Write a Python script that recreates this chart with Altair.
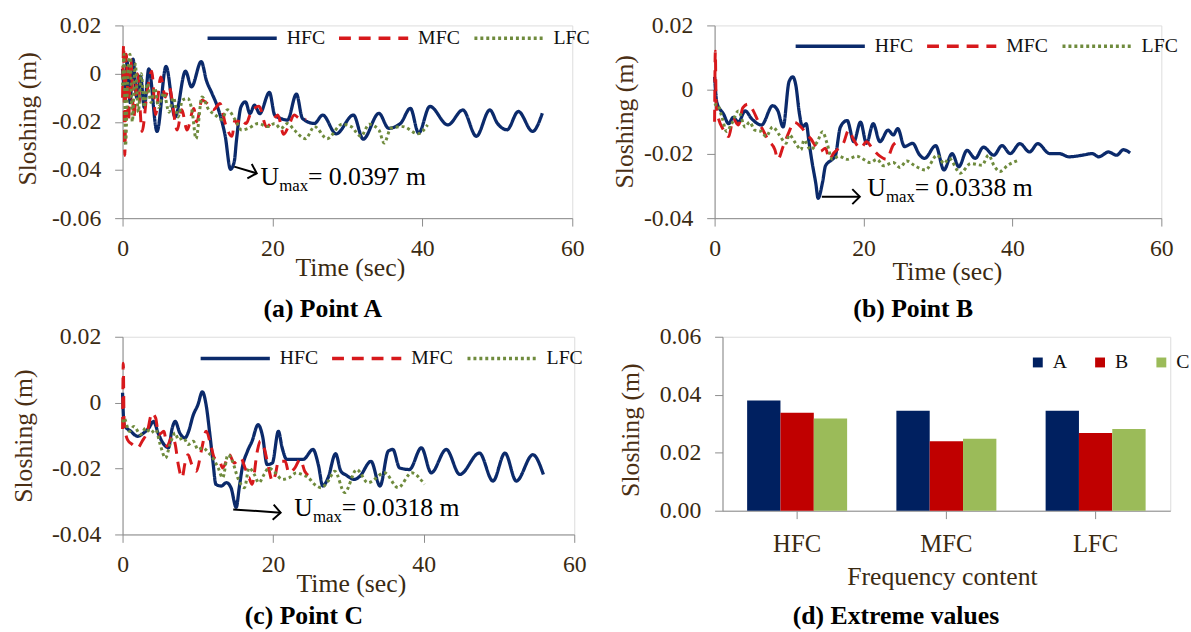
import altair as alt
import pandas as pd

FONT = "Liberation Serif"
LABEL_C = "#3a2a12"
TITLE_C = "#4b2f14"
AXIS_C = "#8c8c8c"

SERIES = ["HFC", "MFC", "LFC"]
LINE_COLORS = ["#0b2a6b", "#d7191c", "#6f8b3d"]
LINE_DASH = [[1, 0], [12, 8], [3, 3]]

# ---------------- Panel (a) Point A ----------------
a_hfc_t = [0.0, 0.3, 0.6, 1.0, 1.4, 1.9, 2.4, 2.9, 3.5, 4.6, 5.8, 7.0, 8.4, 9.2, 10.5, 11.2, 11.9,
           12.8, 13.7, 14.4, 14.9, 15.2, 15.8, 16.4, 17.0, 17.6, 18.3, 19.6, 20.3, 21.1, 22.0, 23.2,
           24.0, 25.6, 26.7, 28.5, 30.8, 32.1, 34.2, 35.5, 37.1, 38.4, 39.5, 41.0, 43.4, 45.4, 47.2,
           49.0, 50.0, 51.3, 52.8, 54.7, 56.0]
a_hfc_v = [0.002, -0.008, 0.005, -0.012, 0.006, -0.010, -0.001, -0.014, 0.002, -0.024, 0.003, -0.018,
           0.001, -0.0055, 0.005, -0.003, -0.008, -0.015, -0.026, -0.0397, -0.0366, -0.0276, -0.0138,
           -0.0117, -0.0166, -0.0131, -0.0166, -0.0078, -0.0172, -0.0186, -0.0193, -0.0085, -0.0186,
           -0.0207, -0.0172, -0.0250, -0.0172, -0.0272, -0.0165, -0.0227, -0.0206, -0.0144, -0.0247,
           -0.0136, -0.0213, -0.0151, -0.0260, -0.0151, -0.0206, -0.0233, -0.0157, -0.0240, -0.0165]
a_mfc_t = [0.0, 0.15, 0.3, 0.5, 0.8, 1.1, 1.5, 2.0, 2.6, 3.3, 3.9, 4.4, 5.1, 5.7, 6.2, 7.3, 7.9, 8.6,
           9.5, 9.9, 10.6, 11.5, 12.1, 13.0, 13.7, 14.6, 15.0, 15.3, 15.6, 16.5, 17.0, 18.2, 19.2, 19.8,
           20.7, 21.5, 22.2, 22.9, 23.6, 24.5]
a_mfc_v = [-0.010, 0.012, -0.034, 0.008, -0.020, 0.006, -0.018, 0.000, -0.024, -0.007, 0.001, -0.017,
           -0.0014, -0.0097, -0.0055, -0.0234, -0.0150, -0.0234, -0.0145, -0.0200, -0.0110, -0.0130,
           -0.0150, -0.0124, -0.0207, -0.0260, -0.0193, -0.0210, -0.0186, -0.0207, -0.0172, -0.0135,
           -0.0220, -0.0207, -0.0172, -0.0252, -0.0214, -0.0172, -0.0186, -0.0190]
a_lfc_t = [0.0, 0.2, 0.4, 0.7, 1.0, 1.3, 1.7, 2.1, 2.5, 2.9, 3.3, 3.8, 4.3, 4.8, 5.5, 6.2, 6.8, 7.4,
           8.0, 8.7, 9.3, 9.8, 10.6, 11.5, 12.3, 13.2, 14.0, 15.0, 15.9, 16.7, 18.1, 19.4, 20.3, 21.1,
           22.0, 22.9, 24.4, 25.6, 27.3, 29.3, 30.5, 31.8, 32.9, 34.2, 34.9, 35.8, 37.4, 39.4, 40.7]
a_lfc_v = [-0.005, 0.008, -0.030, 0.000, 0.008, -0.020, 0.004, -0.016, 0.000, -0.014, -0.004, -0.012,
           -0.006, -0.014, -0.008, -0.016, -0.010, -0.018, -0.011, -0.0103, -0.016, -0.027, -0.0097,
           -0.015, -0.017, -0.019, -0.015, -0.019, -0.0234, -0.0228, -0.0207, -0.022, -0.0207, -0.0228,
           -0.0207, -0.0234, -0.027, -0.022, -0.027, -0.021, -0.022, -0.026, -0.021, -0.0234, -0.0288,
           -0.0227, -0.022, -0.025, -0.0213]

# ---------------- Panel (b) Point B ----------------
b_hfc_t = [0.0, 0.3, 1.2, 1.9, 2.5, 3.2, 4.1, 5.0, 6.3, 7.8, 8.5, 9.2, 10.0, 10.5, 10.9, 11.4, 11.8,
           12.3, 12.7, 13.1, 13.6, 13.9, 14.5, 14.9, 15.8, 16.2, 16.9, 17.8, 18.7, 19.6, 20.4, 21.3,
           22.2, 23.3, 24.0, 24.6, 25.5, 26.6, 27.5, 28.2, 29.7, 30.8, 31.9, 32.8, 33.9, 35.0, 36.1,
           37.5, 38.6, 39.7, 41.0, 42.3, 43.4, 45.0, 46.3, 47.6, 49.4, 50.7, 51.6, 52.9, 54.0, 54.9, 55.8]
b_hfc_v = [0.004, -0.004, -0.0076, -0.0106, -0.0086, -0.0101, -0.0066, -0.0091, -0.011, -0.005,
           -0.0066, -0.0116, 0.0025, 0.004, 0.0015, -0.0076, -0.0116, -0.0106, -0.0167, -0.0227,
           -0.0293, -0.0338, -0.0288, -0.0237, -0.0217, -0.0207, -0.0116, -0.0096, -0.0162, -0.0101,
           -0.0167, -0.0106, -0.0162, -0.0126, -0.0141, -0.0121, -0.0177, -0.0167, -0.0202, -0.0214,
           -0.0174, -0.025, -0.0199, -0.024, -0.0189, -0.0214, -0.0179, -0.0204, -0.0174, -0.0199,
           -0.0168, -0.0194, -0.0168, -0.0199, -0.0199, -0.0209, -0.0204, -0.0199, -0.0209, -0.0194,
           -0.0204, -0.0187, -0.0197]
b_mfc_t = [0.0, 0.1, 0.2, 0.3, 1.2, 1.9, 2.5, 3.2, 3.8, 4.5, 5.2, 5.8, 6.5, 7.2, 8.1, 8.5, 9.2, 10.0,
           10.7, 11.6, 12.3, 12.9, 13.6, 14.2, 14.9, 15.4, 16.0, 16.7, 17.3, 18.0, 18.7, 19.6, 20.4,
           21.3, 22.2, 23.1, 24.0, 24.8]
b_mfc_v = [-0.010, 0.012, -0.004, -0.0066, -0.0126, -0.0146, -0.0091, -0.011, -0.0056, -0.0045,
           -0.0066, -0.0096, -0.0126, -0.0157, -0.0187, -0.0217, -0.0177, -0.0131, -0.0101, -0.0116,
           -0.0136, -0.0152, -0.0177, -0.0192, -0.0182, -0.0217, -0.0197, -0.0182, -0.0167, -0.0126,
           -0.0157, -0.0182, -0.0162, -0.0187, -0.0207, -0.0217, -0.0172, -0.0160]
b_lfc_t = [0.0, 0.3, 1.0, 1.6, 2.3, 3.2, 4.1, 4.7, 5.4, 6.3, 6.9, 7.8, 8.7, 9.6, 10.0, 10.9, 11.6,
           12.0, 12.9, 13.8, 14.5, 15.1, 15.8, 16.7, 17.8, 19.1, 20.0, 20.9, 21.8, 22.7, 24.0, 24.9,
           25.8, 26.9, 28.3, 29.9, 30.8, 31.5, 33.0, 34.4, 35.9, 36.8, 37.5, 38.3, 39.4, 40.8]
b_lfc_v = [-0.005, -0.0045, -0.0086, -0.013, -0.0106, -0.0066, -0.0116, -0.0101, -0.0126, -0.013,
           -0.0146, -0.0116, -0.0141, -0.0167, -0.0141, -0.0167, -0.0187, -0.0157, -0.0187, -0.0162,
           -0.0131, -0.0167, -0.0217, -0.0207, -0.0217, -0.0207, -0.0217, -0.0227, -0.0217, -0.0237,
           -0.0227, -0.0242, -0.0222, -0.0237, -0.025, -0.0204, -0.023, -0.0214, -0.026, -0.023,
           -0.0235, -0.0204, -0.0235, -0.0255, -0.0235, -0.022]

# ---------------- Panel (c) Point C ----------------
c_hfc_t = [0.0, 0.2, 1.1, 2.0, 2.8, 3.5, 4.1, 4.8, 5.5, 6.1, 6.6, 7.0, 7.6, 8.3, 8.7, 9.4, 10.0, 10.6,
           11.1, 11.6, 12.0, 12.4, 13.1, 13.8, 14.4, 15.1, 15.5, 15.9, 16.6, 17.2, 18.0, 18.6, 19.2,
           19.9, 20.7, 21.2, 21.8, 22.9, 24.0, 25.3, 26.0, 26.6, 27.3, 28.3, 29.0, 29.7, 30.8, 31.5,
           33.0, 34.2, 35.3, 35.9, 36.8, 38.1, 39.7, 41.0, 43.0, 44.8, 47.4, 49.2, 50.8, 52.3, 54.5, 55.9]
c_hfc_v = [0.003, -0.0067, -0.0087, -0.0102, -0.0092, -0.0077, -0.0057, -0.0097, -0.0127, -0.0137,
           -0.0077, -0.0057, -0.0092, -0.0107, -0.0092, -0.0037, -0.0007, 0.0033, -0.0007, -0.0097,
           -0.0178, -0.0248, -0.0253, -0.0243, -0.0258, -0.0318, -0.0258, -0.0198, -0.0147, -0.0117,
           -0.0067, -0.0102, -0.0188, -0.0183, -0.0087, -0.0137, -0.0172, -0.0172, -0.0172, -0.0142,
           -0.0188, -0.0253, -0.0228, -0.0155, -0.0208, -0.0220, -0.0233, -0.0224, -0.0178, -0.0253,
           -0.0147, -0.0142, -0.0198, -0.0203, -0.0137, -0.0213, -0.0142, -0.0218, -0.0153, -0.0238,
           -0.0153, -0.0238, -0.0158, -0.0218]
c_mfc_t = [0.0, 0.1, 0.2, 0.65, 1.3, 2.0, 2.6, 3.3, 3.9, 4.4, 4.8, 5.5, 5.9, 6.6, 7.0, 7.4, 7.9, 8.3,
           8.7, 9.2, 9.8, 10.5, 11.1, 11.8, 12.2, 12.9, 13.3, 14.2, 14.8, 15.7, 16.3, 16.8, 17.2, 17.9,
           18.3, 18.8, 19.4, 19.9, 20.3, 20.7, 21.6, 22.1, 22.9, 23.6, 24.2, 24.9]
c_mfc_v = [-0.008, 0.012, -0.0057, -0.0112, -0.0127, -0.0137, -0.0117, -0.0087, -0.0032, -0.0047,
           -0.0097, -0.0087, -0.0132, -0.0102, -0.0127, -0.0188, -0.0228, -0.0183, -0.0158, -0.0188,
           -0.0208, -0.0142, -0.0087, -0.0137, -0.0168, -0.0178, -0.0198, -0.0158, -0.0183, -0.0168,
           -0.0200, -0.0228, -0.0248, -0.0147, -0.0117, -0.0137, -0.0198, -0.0238, -0.0218, -0.0178,
           -0.0178, -0.0213, -0.0198, -0.0172, -0.0208, -0.0223]
c_lfc_t = [0.0, 0.2, 0.9, 1.5, 2.4, 3.1, 3.7, 4.4, 5.0, 5.7, 6.3, 7.0, 7.4, 8.1, 8.7, 9.4, 10.0, 10.7,
           11.4, 12.0, 12.7, 13.3, 14.0, 14.6, 15.3, 16.2, 16.8, 17.5, 18.1, 18.8, 19.4, 20.3, 21.2,
           22.1, 23.1, 23.8, 24.7, 25.5, 26.4, 27.3, 28.2, 29.5, 31.1, 32.6, 34.8, 36.6, 38.4, 40.1]
c_lfc_v = [-0.006, -0.0047, -0.0087, -0.0072, -0.0097, -0.0077, -0.0092, -0.0082, -0.0127, -0.0168,
           -0.0127, -0.0092, -0.0112, -0.0107, -0.0127, -0.0117, -0.0142, -0.0137, -0.0152, -0.0168,
           -0.0198, -0.0228, -0.0158, -0.0178, -0.0228, -0.0258, -0.0198, -0.0218, -0.0243, -0.0218,
           -0.0198, -0.0213, -0.0233, -0.0228, -0.0213, -0.0218, -0.0228, -0.0248, -0.0258, -0.0238,
           -0.0208, -0.0273, -0.0203, -0.0243, -0.0213, -0.0258, -0.0213, -0.0248]

# ---------------- Panel (d) Extreme values ----------------
bar_groups = ["HFC", "MFC", "LFC"]
bar_points = ["A", "B", "C"]
bar_colors = ["#002060", "#c00000", "#9bbb59"]
bar_A = [0.0380, 0.0345, 0.0345]
bar_B = [0.0338, 0.0240, 0.0268]
bar_C = [0.0318, 0.0248, 0.0282]

# Umax annotations
umax_values = [0.0397, 0.0338, 0.0318]


def y_axis(vals, tx, ty):
    return alt.Axis(values=vals, grid=False, title="Sloshing (m)",
                    labelExpr="datum.value == 0 ? '0' : (datum.value < 0 ? '-' : '') + format(abs(datum.value), '.2f')",
                    labelFont=FONT, labelFontSize=24, labelColor=LABEL_C, labelPadding=14,
                    tickSize=8, tickColor=AXIS_C, domainColor=AXIS_C,
                    titleFont=FONT, titleFontSize=26, titleFontWeight="normal", titleColor=TITLE_C,
                    titleX=tx, titleY=ty, titleAngle=-90, titleBaseline="middle", titleAlign="center")


def x_axis(tx, ty):
    return alt.Axis(values=[0, 20, 40, 60], format="d", grid=False, title="Time (sec)",
                    labelFont=FONT, labelFontSize=24, labelColor=LABEL_C, labelPadding=11,
                    labelFlush=False, labelOverlap=False,
                    tickSize=8, tickColor=AXIS_C, domainColor=AXIS_C,
                    titleFont=FONT, titleFontSize=26, titleFontWeight="normal", titleColor=LABEL_C,
                    titleX=tx, titleY=ty, titleBaseline="middle", titleAlign="center")


def line_panel(ts, vs, ydom, yvals, width, height, leg_x, leg_y, xt, yt, ann, caption, cap_dx, cap_off):
    xenc = alt.X("t:Q", scale=alt.Scale(domain=[0, 60], nice=False), axis=x_axis(*xt))
    yenc = alt.Y("v:Q", scale=alt.Scale(domain=ydom, nice=False, zero=False), axis=y_axis(yvals, *yt))
    legend = alt.Legend(orient="none", legendX=leg_x, legendY=leg_y, direction="horizontal", title=None,
                        symbolType="stroke", symbolSize=4900, symbolStrokeWidth=3.5,
                        labelFont=FONT, labelFontSize=20, labelColor="#111111", labelOffset=8,
                        columnPadding=7)
    color = alt.Color("series:N", scale=alt.Scale(domain=SERIES, range=LINE_COLORS), legend=legend)
    dash = alt.StrokeDash("series:N", scale=alt.Scale(domain=SERIES, range=LINE_DASH), legend=legend)
    layers = []
    for i, name in enumerate(SERIES):
        df = pd.DataFrame({"t": ts[i], "v": vs[i], "series": name})
        layers.append(alt.Chart(df).mark_line(strokeWidth=3.3 if i == 0 else 3.0, strokeJoin="round",
                                              interpolate="monotone")
                      .encode(x=xenc, y=yenc, color=color, strokeDash=dash))
    # annotation
    u_t, u_v, value, a_t0, a_v0, a_t1, a_v1, ang = ann
    tdf = pd.DataFrame({"t": [u_t], "v": [u_v]})
    base = alt.Chart(tdf)
    txt_common = dict(align="left", baseline="alphabetic", font=FONT, color="black")
    layers.append(base.mark_text(text="U", fontSize=26, **txt_common).encode(x=xenc, y=yenc))
    layers.append(base.mark_text(text="max", fontSize=17, dx=19, dy=6, **txt_common).encode(x=xenc, y=yenc))
    layers.append(base.mark_text(text="= %.4f m" % value, fontSize=26, dx=48, **txt_common).encode(x=xenc, y=yenc))
    adf = pd.DataFrame({"t": [a_t0], "v": [a_v0], "t2": [a_t1], "v2": [a_v1]})
    layers.append(alt.Chart(adf).mark_rule(color="black", strokeWidth=2)
                  .encode(x=xenc, y=yenc, x2="t2:Q", y2="v2:Q"))
    hdf = pd.DataFrame({"t": [a_t1], "v": [a_v1]})
    layers.append(alt.Chart(hdf).mark_point(shape="M-1,-1L0,0L-1,1", filled=False, size=230, strokeWidth=2,
                                            color="black", opacity=1, angle=ang)
                  .encode(x=xenc, y=yenc))
    return alt.layer(*layers).properties(
        width=width, height=height,
        title=alt.TitleParams(caption, orient="bottom", anchor="middle", frame="group", offset=cap_off,
                              dx=cap_dx, font=FONT, fontSize=26, fontWeight="bold", color="black"))


pa = line_panel([a_hfc_t, a_mfc_t, a_lfc_t], [a_hfc_v, a_mfc_v, a_lfc_v], [-0.06, 0.02],
                [-0.06, -0.04, -0.02, 0, 0.02], 455, 195, 84, -24, (230, 50), (-96, 94),
                (18.4, -0.0461, umax_values[0], 14.9, -0.0386, 17.9, -0.0414, 17),
                "(a)  Point A", -25, 16)
pb = line_panel([b_hfc_t, b_mfc_t, b_lfc_t], [b_hfc_v, b_mfc_v, b_lfc_v], [-0.04, 0.02],
                [-0.04, -0.02, 0, 0.02], 452, 195, 80, -16, (235, 54), (-91, 97),
                (20.5, -0.0332, umax_values[1], 14.4, -0.0333, 19.5, -0.0333, 0),
                "(b)  Point B", -25, 12)
pc = line_panel([c_hfc_t, c_mfc_t, c_lfc_t], [c_hfc_v, c_mfc_v, c_lfc_v], [-0.04, 0.02],
                [-0.04, -0.02, 0, 0.02], 457, 200, 77, -15, (231, 50), (-100, 100),
                (22.8, -0.0343, umax_values[2], 14.7, -0.0324, 21.0, -0.0334, 4),
                "(c) Point C", -45, 7)

bar_df = pd.DataFrame({
    "freq": bar_groups * 3,
    "point": [p for p in bar_points for _ in bar_groups],
    "value": bar_A + bar_B + bar_C,
})
pd_chart = alt.Chart(bar_df).mark_bar().encode(
    x=alt.X("freq:N", sort=bar_groups,
            scale=alt.Scale(paddingInner=0.33, paddingOuter=0.165),
            axis=alt.Axis(title="Frequency content", labelAngle=0, labelFont=FONT, labelFontSize=25,
                          labelColor=LABEL_C, labelPadding=13, tickSize=8, tickColor=AXIS_C,
                          domainColor=AXIS_C, titleFont=FONT, titleFontSize=26, titleFontWeight="normal",
                          titleColor=LABEL_C, titleX=222, titleY=67, titleBaseline="middle",
                          titleAlign="center")),
    xOffset=alt.XOffset("point:N", sort=bar_points),
    y=alt.Y("value:Q", scale=alt.Scale(domain=[0, 0.06], nice=False),
            axis=alt.Axis(values=[0, 0.02, 0.04, 0.06], format=".2f", grid=False, title="Sloshing (m)",
                          labelFont=FONT, labelFontSize=24, labelColor=LABEL_C, labelPadding=14,
                          tickSize=8, tickColor=AXIS_C, domainColor=AXIS_C,
                          titleFont=FONT, titleFontSize=26, titleFontWeight="normal", titleColor=TITLE_C,
                          titleX=-93, titleY=94, titleAngle=-90, titleBaseline="middle",
                          titleAlign="center")),
    color=alt.Color("point:N", scale=alt.Scale(domain=bar_points, range=bar_colors),
                    legend=alt.Legend(orient="none", legendX=309, legendY=16, direction="horizontal",
                                      title=None, symbolType="square", symbolSize=100,
                                      symbolStrokeWidth=0, labelFont=FONT, labelFontSize=20,
                                      labelColor="#111111", labelOffset=5, columnPadding=23)),
).properties(
    width=453, height=176,
    title=alt.TitleParams("(d) Extreme values", orient="bottom", anchor="middle", frame="group",
                          offset=14, dx=-51, font=FONT, fontSize=26, fontWeight="bold", color="black"))

top = alt.hconcat(pa, pb, spacing=144, bounds="flush").resolve_scale(
    color="independent", strokeDash="independent").resolve_legend(color="independent", strokeDash="independent")
bottom = alt.hconcat(pc, pd_chart, spacing=150, bounds="flush").resolve_scale(
    color="independent", strokeDash="independent").resolve_legend(color="independent", strokeDash="independent")

chart = alt.vconcat(top, bottom, spacing=-2).resolve_scale(
    color="independent", strokeDash="independent").resolve_legend(
    color="independent", strokeDash="independent").properties(
    padding={"left": 10, "top": -3, "right": 0, "bottom": 0}
).configure_view(stroke="#595959", strokeWidth=1.5).configure(background="white")

chart.save("out.html", embed_options={"renderer": "svg", "actions": False})
